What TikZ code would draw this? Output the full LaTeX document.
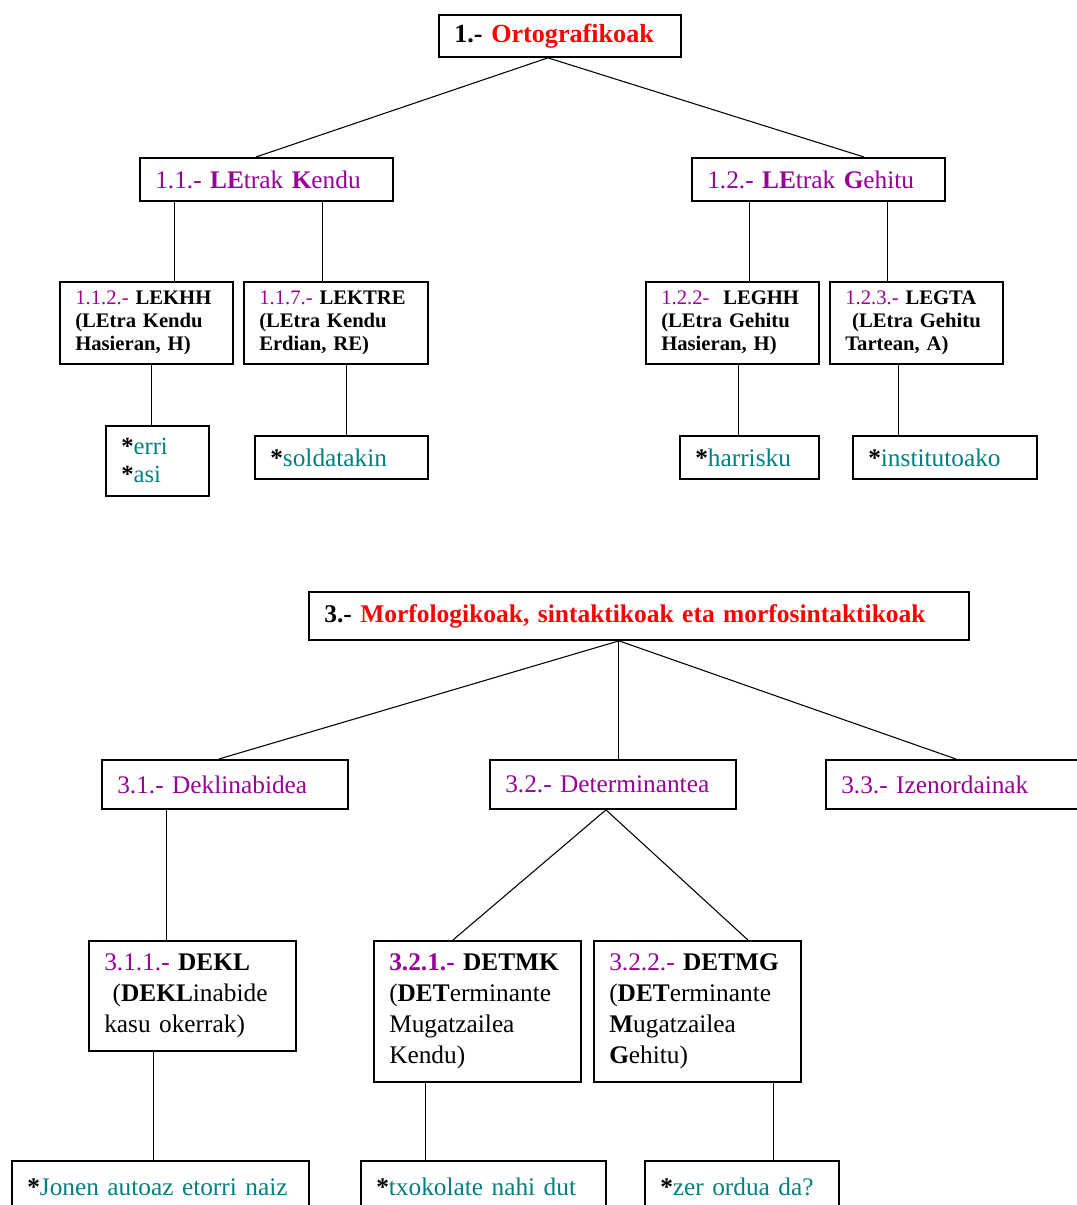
\documentclass[tikz,border=0pt]{standalone}
\usepackage{fontspec}
\setmainfont{Liberation Serif}
\definecolor{numpurple}{RGB}{153,0,153}
\definecolor{exteal}{RGB}{0,128,128}

\begin{document}
\begin{tikzpicture}[x=0.75pt,y=-0.75pt,
  box/.style={draw,line width=1.4pt,anchor=north west,align=left,inner xsep=11.5pt,inner ysep=2pt},
  dims/.style 2 args={minimum width=#1*0.75pt,minimum height=#2*0.75pt,text width=#1*0.75pt-23pt},
  big/.style={font=\fontsize{19}{23}\selectfont},
  head/.style={font=\fontsize{19.6}{23}\selectfont},
  small/.style={font=\fontsize{15.5}{17.2}\selectfont},
  link/.style={line width=0.8pt}]
\useasboundingbox (0,0) rectangle (1076,1205);
    % 1.- Ortografikoak
    \node[box,head,dims={242}{42}] (orto) at (438,14) {\textbf{1.- \textcolor{red}{Ortografikoak}}};
    \node[box,big,dims={253}{43},text=numpurple] (kendu) at (139,157) {1.1.- \textbf{LE}trak \textbf{K}endu};
    \node[box,big,dims={253}{43},text=numpurple] (gehitu) at (691,157) {1.2.- \textbf{LE}trak \textbf{G}ehitu};
    \node[box,small,dims={173}{82}] (lekhh) at (59,281) {\textcolor{numpurple}{1.1.2.-} \textbf{LEKHH}\\\textbf{(LEtra Kendu}\\\textbf{Hasieran, H)}};
    \node[box,small,dims={184}{82}] (lektre) at (243,281) {\textcolor{numpurple}{1.1.7.-} \textbf{LEKTRE}\\\textbf{(LEtra Kendu}\\\textbf{Erdian, RE)}};
    \node[box,small,dims={173}{82}] (leghh) at (645,281) {\textcolor{numpurple}{1.2.2-}\ \ \textbf{LEGHH}\\\textbf{(LEtra Gehitu}\\\textbf{Hasieran, H)}};
    \node[box,small,dims={173}{82}] (legta) at (829,281) {\textcolor{numpurple}{1.2.3.-} \textbf{LEGTA}\\\ \textbf{(LEtra Gehitu}\\\textbf{Tartean, A)}};
    \node[box,big,dims={103}{70},font=\fontsize{18.5}{21}\selectfont] (erri) at (105,425) {\textbf{*}\textcolor{exteal}{erri}\\\textbf{*}\textcolor{exteal}{asi}};
    \node[box,big,dims={173}{43}] (solda) at (254,435) {\textbf{*}\textcolor{exteal}{soldatakin}};
    \node[box,big,dims={139}{43}] (harri) at (679,435) {\textbf{*}\textcolor{exteal}{harrisku}};
    \node[box,big,dims={184}{43}] (insti) at (852,435) {\textbf{*}\textcolor{exteal}{institutoako}};
    \draw[link] ([shift={(-12,0)}]orto.south) -- ([shift={(-10.5,0)}]kendu.north);
    \draw[link] ([shift={(-12,0)}]orto.south) -- ([shift={(45.5,0)}]gehitu.north);
    \draw[link] ([shift={(-91.5,0)}]kendu.south) -- ([shift={(28.5,0)}]lekhh.north);
    \draw[link] ([shift={(56.5,0)}]kendu.south) -- ([shift={(-13,0)}]lektre.north);
    \draw[link] ([shift={(-68.5,0)}]gehitu.south) -- ([shift={(17.5,0)}]leghh.north);
    \draw[link] ([shift={(69.5,0)}]gehitu.south) -- ([shift={(-28.5,0)}]legta.north);
    \draw[link] ([shift={(5.5,0)}]lekhh.south) -- ([shift={(-5.5,0)}]erri.north);
    \draw[link] ([shift={(11,0)}]lektre.south) -- ([shift={(5.5,0)}]solda.north);
    \draw[link] ([shift={(6.5,0)}]leghh.south) -- ([shift={(-10.5,0)}]harri.north);
    \draw[link] ([shift={(-17.5,0)}]legta.south) -- ([shift={(-46,0)}]insti.north);
    % 3.- Morfologikoak
    \node[box,head,dims={660}{48},font=\fontsize{19.1}{23}\selectfont] (morfo) at (308,591) {\textbf{3.- \textcolor{red}{Morfologikoak, sintaktikoak eta morfosintaktikoak}}};
    \node[box,big,dims={246}{49},text=numpurple] (dekli) at (101,759) {3.1.- Deklinabidea};
    \node[box,big,dims={246}{49},text=numpurple] (deter) at (489,759) {3.2.- Determinantea};
    \node[box,big,dims={253}{49},text=numpurple] (izen) at (825,759) {3.3.- Izenordainak};
    \node[box,big,dims={207}{110},font=\fontsize{19}{23.2}\selectfont] (dekl) at (88,940) {\textcolor{numpurple}{3.1.1.-} \textbf{DEKL}\\\ (\textbf{DEKL}inabide\\kasu okerrak)};
    \node[box,big,dims={207}{141},font=\fontsize{19}{23.2}\selectfont] (detmk) at (373,940) {\textcolor{numpurple}{\textbf{3.2.1.-}} \textbf{DETMK}\\(\textbf{DET}erminante\\Mugatzailea\\Kendu)};
    \node[box,big,dims={207}{141},font=\fontsize{19}{23.2}\selectfont] (detmg) at (593,940) {\textcolor{numpurple}{3.2.2.-} \textbf{DETMG}\\(\textbf{DET}erminante\\\textbf{M}ugatzailea\\\textbf{G}ehitu)};
    \node[box,big,dims={297}{52}] (jonen) at (11,1160) {\textbf{*}\textcolor{exteal}{Jonen autoaz etorri naiz}};
    \node[box,big,dims={245}{52}] (txoko) at (360,1160) {\textbf{*}\textcolor{exteal}{txokolate nahi dut}};
    \node[box,big,dims={194}{52}] (zer) at (644,1160) {\textbf{*}\textcolor{exteal}{zer ordua da?}};
    \draw[link] ([shift={(-20,0)}]morfo.south) -- ([shift={(-6,0)}]dekli.north);
    \draw[link] ([shift={(-20,0)}]morfo.south) -- ([shift={(6,0)}]deter.north);
    \draw[link] ([shift={(-20,0)}]morfo.south) -- ([shift={(3.5,0)}]izen.north);
    \draw[link] ([shift={(-58,0)}]dekli.south) -- ([shift={(-25.5,0)}]dekl.north);
    \draw[link] ([shift={(-7,0)}]deter.south) -- ([shift={(-24.5,0)}]detmk.north);
    \draw[link] ([shift={(-7,0)}]deter.south) -- ([shift={(50.5,0)}]detmg.north);
    \draw[link] ([shift={(-38.5,0)}]dekl.south) -- ([shift={(-6.5,0)}]jonen.north);
    \draw[link] ([shift={(-51.5,0)}]detmk.south) -- ([shift={(-57.5,0)}]txoko.north);
    \draw[link] ([shift={(76.5,0)}]detmg.south) -- ([shift={(32,0)}]zer.north);
\end{tikzpicture}
\end{document}
